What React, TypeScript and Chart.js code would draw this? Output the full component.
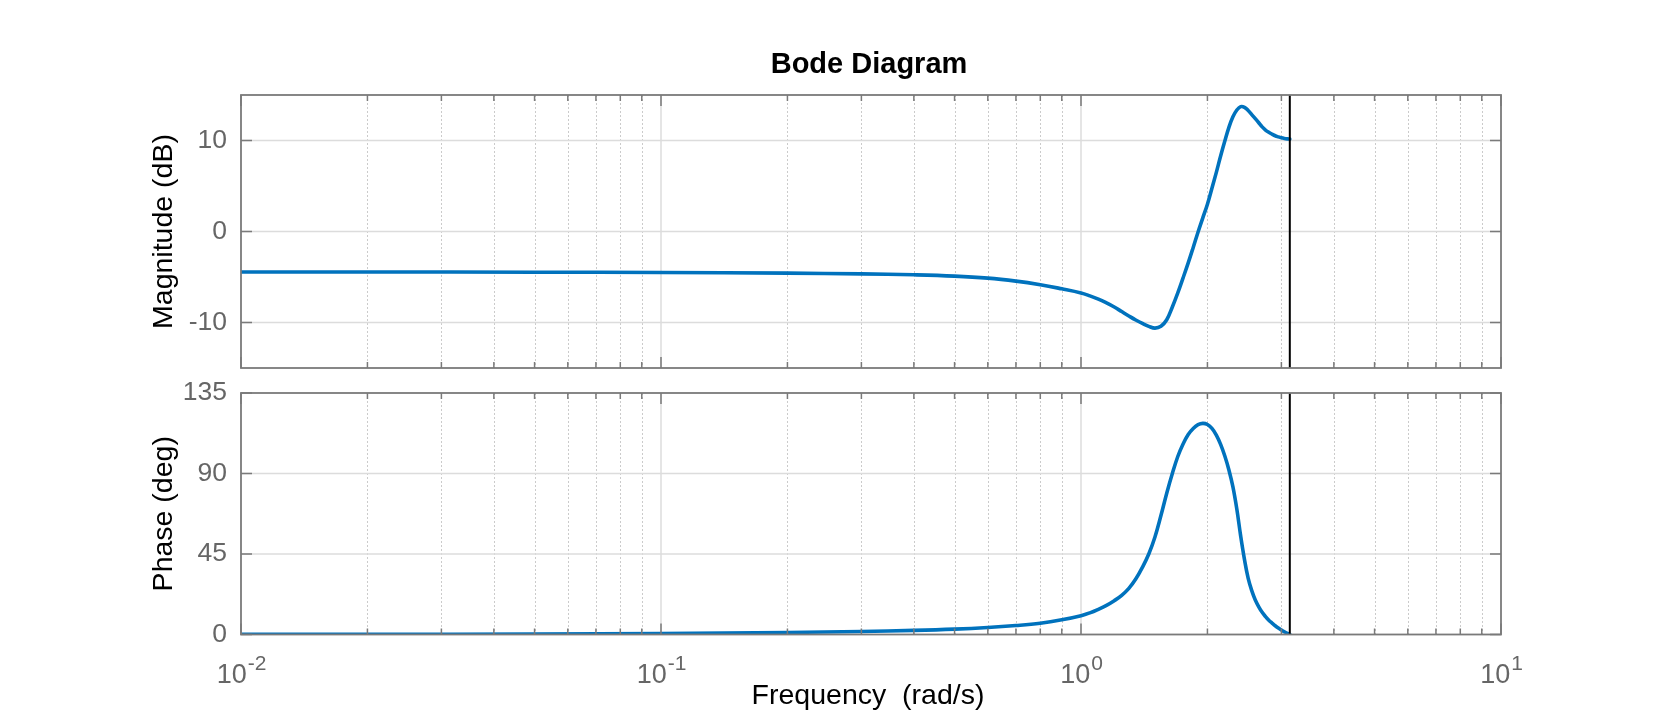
import React, { useEffect, useRef } from 'react';
import { Chart, registerables } from 'chart.js';

Chart.register(...registerables);

// ---- Data ----
const frequency = [
  0.01, 0.02, 0.05, 0.1, 0.2, 0.3, 0.4, 0.5, 0.6, 0.7, 0.8, 0.9,
  1.0, 1.05, 1.1, 1.15, 1.2, 1.25, 1.3, 1.35, 1.4, 1.45, 1.5, 1.55, 1.6, 1.65, 1.7, 1.75, 1.8, 1.85, 1.9, 1.95,
  2.0, 2.05, 2.1, 2.15, 2.2, 2.25, 2.3, 2.35, 2.4, 2.45, 2.5, 2.55, 2.6, 2.65, 2.7, 2.75, 2.8, 2.85, 2.9, 2.95,
  3.0, 3.05, 3.1, 3.1416,
];
const magnitudeDb = [
  -4.45, -4.45, -4.47, -4.5, -4.57, -4.66, -4.76, -4.9, -5.12, -5.45, -5.85, -6.3,
  -6.75, -7.07, -7.43, -7.85, -8.3, -8.8, -9.28, -9.72, -10.1, -10.42, -10.62, -10.42, -9.7, -8.3, -6.75, -5.1, -3.45, -1.75, -0.05, 1.5,
  3.0, 4.75, 6.5, 8.3, 9.95, 11.45, 12.6, 13.35, 13.72, 13.65, 13.3, 12.85, 12.4, 11.95, 11.5, 11.15, 10.9, 10.7, 10.52, 10.4,
  10.3, 10.23, 10.18, 10.15,
];
const phaseDeg = [
  0.05, 0.1, 0.25, 0.5, 1.1, 1.7, 2.3, 3.0, 3.9, 5.0, 6.3, 8.2,
  10.5, 12.1, 14.1, 16.3, 18.9, 21.9, 25.8, 31.0, 37.5, 45.0, 54.5, 66.5, 79.0, 90.0, 99.5, 106.5, 111.8, 115.2, 117.3, 118.0,
  117.4, 115.2, 111.5, 106.3, 99.8, 92.0, 82.5, 70.0, 55.0, 42.0, 31.5, 24.5, 19.3, 15.5, 12.4, 10.0, 8.0, 6.4, 4.9, 3.6,
  2.5, 1.5, 0.6, 0.0,
];
const nyquistFrequency = 3.1416;

const magTicks = [-10, 0, 10];
const magRange = [-15, 15];
const phaseTicks = [0, 45, 90, 135];
const phaseRange = [0, 135];
const decadeTicks = [0.01, 0.1, 1, 10];
const decadeExponents = ['-2', '-1', '0', '1'];
const minorMultipliers = [2, 3, 4, 5, 6, 7, 8, 9];

const chartTitle = 'Bode Diagram';
const magLabel = 'Magnitude (dB)';
const phaseLabel = 'Phase (deg)';
const freqLabel = 'Frequency  (rad/s)';

// ---- Styles ----
const FONT = '"Liberation Sans", Arial, Helvetica, sans-serif';
const LINE_COLOR = '#0072BD';
const FRAME_COLOR = '#7a7a7a';
const TICK_TEXT = '#666666';

const minorFreqs: number[] = [];
for (let i = 0; i < decadeTicks.length - 1; i++) {
  for (const m of minorMultipliers) minorFreqs.push(decadeTicks[i] * m);
}

function makeFramePlugin(cfg: { yTicks: number[]; drawTitle: boolean; drawXLabels: boolean }) {
  return {
    id: 'bodeFrame',
    beforeDatasetsDraw(chart: any) {
      const { ctx, chartArea } = chart;
      const { left, right, top, bottom } = chartArea;
      const xs = chart.scales.x;
      const ys = chart.scales.y;
      ctx.save();
      // minor x grid (dotted)
      ctx.strokeStyle = '#cbcbcb';
      ctx.lineWidth = 1;
      ctx.setLineDash([2, 2]);
      for (const f of minorFreqs) {
        const px = Math.round(xs.getPixelForValue(f)) + 0.5;
        ctx.beginPath();
        ctx.moveTo(px, top);
        ctx.lineTo(px, bottom);
        ctx.stroke();
      }
      ctx.setLineDash([]);
      // major grid
      ctx.strokeStyle = '#dcdcdc';
      ctx.lineWidth = 1.5;
      for (const f of decadeTicks) {
        const px = xs.getPixelForValue(f);
        if (px <= left + 1 || px >= right - 1) continue;
        ctx.beginPath();
        ctx.moveTo(px, top);
        ctx.lineTo(px, bottom);
        ctx.stroke();
      }
      for (const v of cfg.yTicks) {
        const py = ys.getPixelForValue(v);
        if (py <= top + 1 || py >= bottom - 1) continue;
        ctx.beginPath();
        ctx.moveTo(left, py);
        ctx.lineTo(right, py);
        ctx.stroke();
      }
      ctx.restore();
    },
    afterDatasetsDraw(chart: any) {
      const { ctx, chartArea } = chart;
      const { left, right, top, bottom } = chartArea;
      const xs = chart.scales.x;
      const ys = chart.scales.y;
      ctx.save();
      // Nyquist line
      const nx = xs.getPixelForValue(nyquistFrequency);
      ctx.strokeStyle = '#000000';
      ctx.lineWidth = 2;
      ctx.beginPath();
      ctx.moveTo(nx, top);
      ctx.lineTo(nx, bottom);
      ctx.stroke();
      // ticks
      ctx.strokeStyle = FRAME_COLOR;
      ctx.lineWidth = 1.5;
      const majorLen = 11;
      const minorLen = 6;
      for (const f of decadeTicks) {
        const px = xs.getPixelForValue(f);
        ctx.beginPath();
        ctx.moveTo(px, bottom);
        ctx.lineTo(px, bottom - majorLen);
        ctx.moveTo(px, top);
        ctx.lineTo(px, top + majorLen);
        ctx.stroke();
      }
      for (const f of minorFreqs) {
        const px = xs.getPixelForValue(f);
        ctx.beginPath();
        ctx.moveTo(px, bottom);
        ctx.lineTo(px, bottom - minorLen);
        ctx.moveTo(px, top);
        ctx.lineTo(px, top + minorLen);
        ctx.stroke();
      }
      for (const v of cfg.yTicks) {
        const py = ys.getPixelForValue(v);
        ctx.beginPath();
        ctx.moveTo(left, py);
        ctx.lineTo(left + majorLen, py);
        ctx.moveTo(right, py);
        ctx.lineTo(right - majorLen, py);
        ctx.stroke();
      }
      // border
      ctx.lineWidth = 1.8;
      ctx.strokeRect(left, top, right - left, bottom - top);

      // title
      if (cfg.drawTitle) {
        ctx.fillStyle = '#000000';
        ctx.font = `bold 29px ${FONT}`;
        ctx.textAlign = 'center';
        ctx.textBaseline = 'alphabetic';
        ctx.fillText(chartTitle, (left + right) / 2 - 2, top - 22.5);
      }
      // x tick labels with superscripts and x title
      if (cfg.drawXLabels) {
        ctx.fillStyle = TICK_TEXT;
        ctx.textBaseline = 'alphabetic';
        ctx.textAlign = 'left';
        for (let i = 0; i < decadeTicks.length; i++) {
          const px = xs.getPixelForValue(decadeTicks[i]);
          ctx.font = `27px ${FONT}`;
          const wBase = ctx.measureText('10').width;
          ctx.font = `21px ${FONT}`;
          const wExp = ctx.measureText(decadeExponents[i]).width;
          const x0 = px - (wBase + wExp) / 2;
          ctx.font = `27px ${FONT}`;
          ctx.fillText('10', x0, bottom + 48);
          ctx.font = `21px ${FONT}`;
          ctx.fillText(decadeExponents[i], x0 + wBase + 1, bottom + 35.5);
        }
        ctx.fillStyle = '#000000';
        ctx.font = `28.5px ${FONT}`;
        ctx.textAlign = 'center';
        ctx.fillText(freqLabel, (left + right) / 2 - 3, bottom + 69);
      }
      ctx.restore();
    },
  };
}

function makeConfig(
  values: number[],
  range: number[],
  yTicks: number[],
  yLabel: string,
  padding: { left: number; right: number; top: number; bottom: number },
  drawTitle: boolean,
  drawXLabels: boolean,
): any {
  return {
    type: 'line',
    data: {
      datasets: [
        {
          data: frequency.map((f, i) => ({ x: f, y: values[i] })),
          borderColor: LINE_COLOR,
          borderWidth: 3.6,
          pointRadius: 0,
          fill: false,
          tension: 0.4,
          borderCapStyle: 'round',
          borderJoinStyle: 'round',
        },
      ],
    },
    options: {
      responsive: false,
      animation: false,
      devicePixelRatio: 1,
      events: [],
      layout: { padding },
      plugins: {
        legend: { display: false },
        tooltip: { enabled: false },
        title: { display: false },
      },
      scales: {
        x: { type: 'logarithmic', min: decadeTicks[0], max: decadeTicks[decadeTicks.length - 1], display: false },
        y: {
          type: 'linear',
          min: range[0],
          max: range[1],
          afterBuildTicks: (s: any) => {
            s.ticks = yTicks.map((v) => ({ value: v }));
          },
          afterFit: (s: any) => {
            s.width = 97;
            s.paddingTop = 0;
            s.paddingBottom = 0;
          },
          ticks: {
            color: TICK_TEXT,
            font: { family: FONT, size: 26.5 },
            padding: 14,
            callback: (v: any) => String(v),
          },
          grid: { display: false, drawTicks: false },
          border: { display: false },
          title: {
            display: true,
            text: yLabel,
            color: '#000000',
            font: { family: FONT, size: 28.5 },
            padding: { top: 3, bottom: 3 },
          },
        },
      },
    },
    plugins: [makeFramePlugin({ yTicks, drawTitle, drawXLabels })],
  };
}

export default function App() {
  const topRef = useRef<HTMLCanvasElement>(null);
  const botRef = useRef<HTMLCanvasElement>(null);

  useEffect(() => {
    const c1 = new Chart(
      topRef.current as HTMLCanvasElement,
      makeConfig(magnitudeDb, magRange, magTicks, magLabel, { left: 144, right: 157, top: 95, bottom: 13 }, true, false),
    );
    const c2 = new Chart(
      botRef.current as HTMLCanvasElement,
      makeConfig(phaseDeg, phaseRange, phaseTicks, phaseLabel, { left: 144, right: 157, top: 12, bottom: 80.5 }, false, true),
    );
    return () => {
      c1.destroy();
      c2.destroy();
    };
  }, []);

  return (
    <div style={{ position: 'absolute', left: 0, top: 0, width: 1658, height: 715, background: '#ffffff', overflow: 'hidden' }}>
      <canvas ref={topRef} width={1658} height={381} style={{ position: 'absolute', left: 0, top: 0, width: 1658, height: 381 }} />
      <canvas ref={botRef} width={1658} height={334} style={{ position: 'absolute', left: 0, top: 381, width: 1658, height: 334 }} />
    </div>
  );
}
